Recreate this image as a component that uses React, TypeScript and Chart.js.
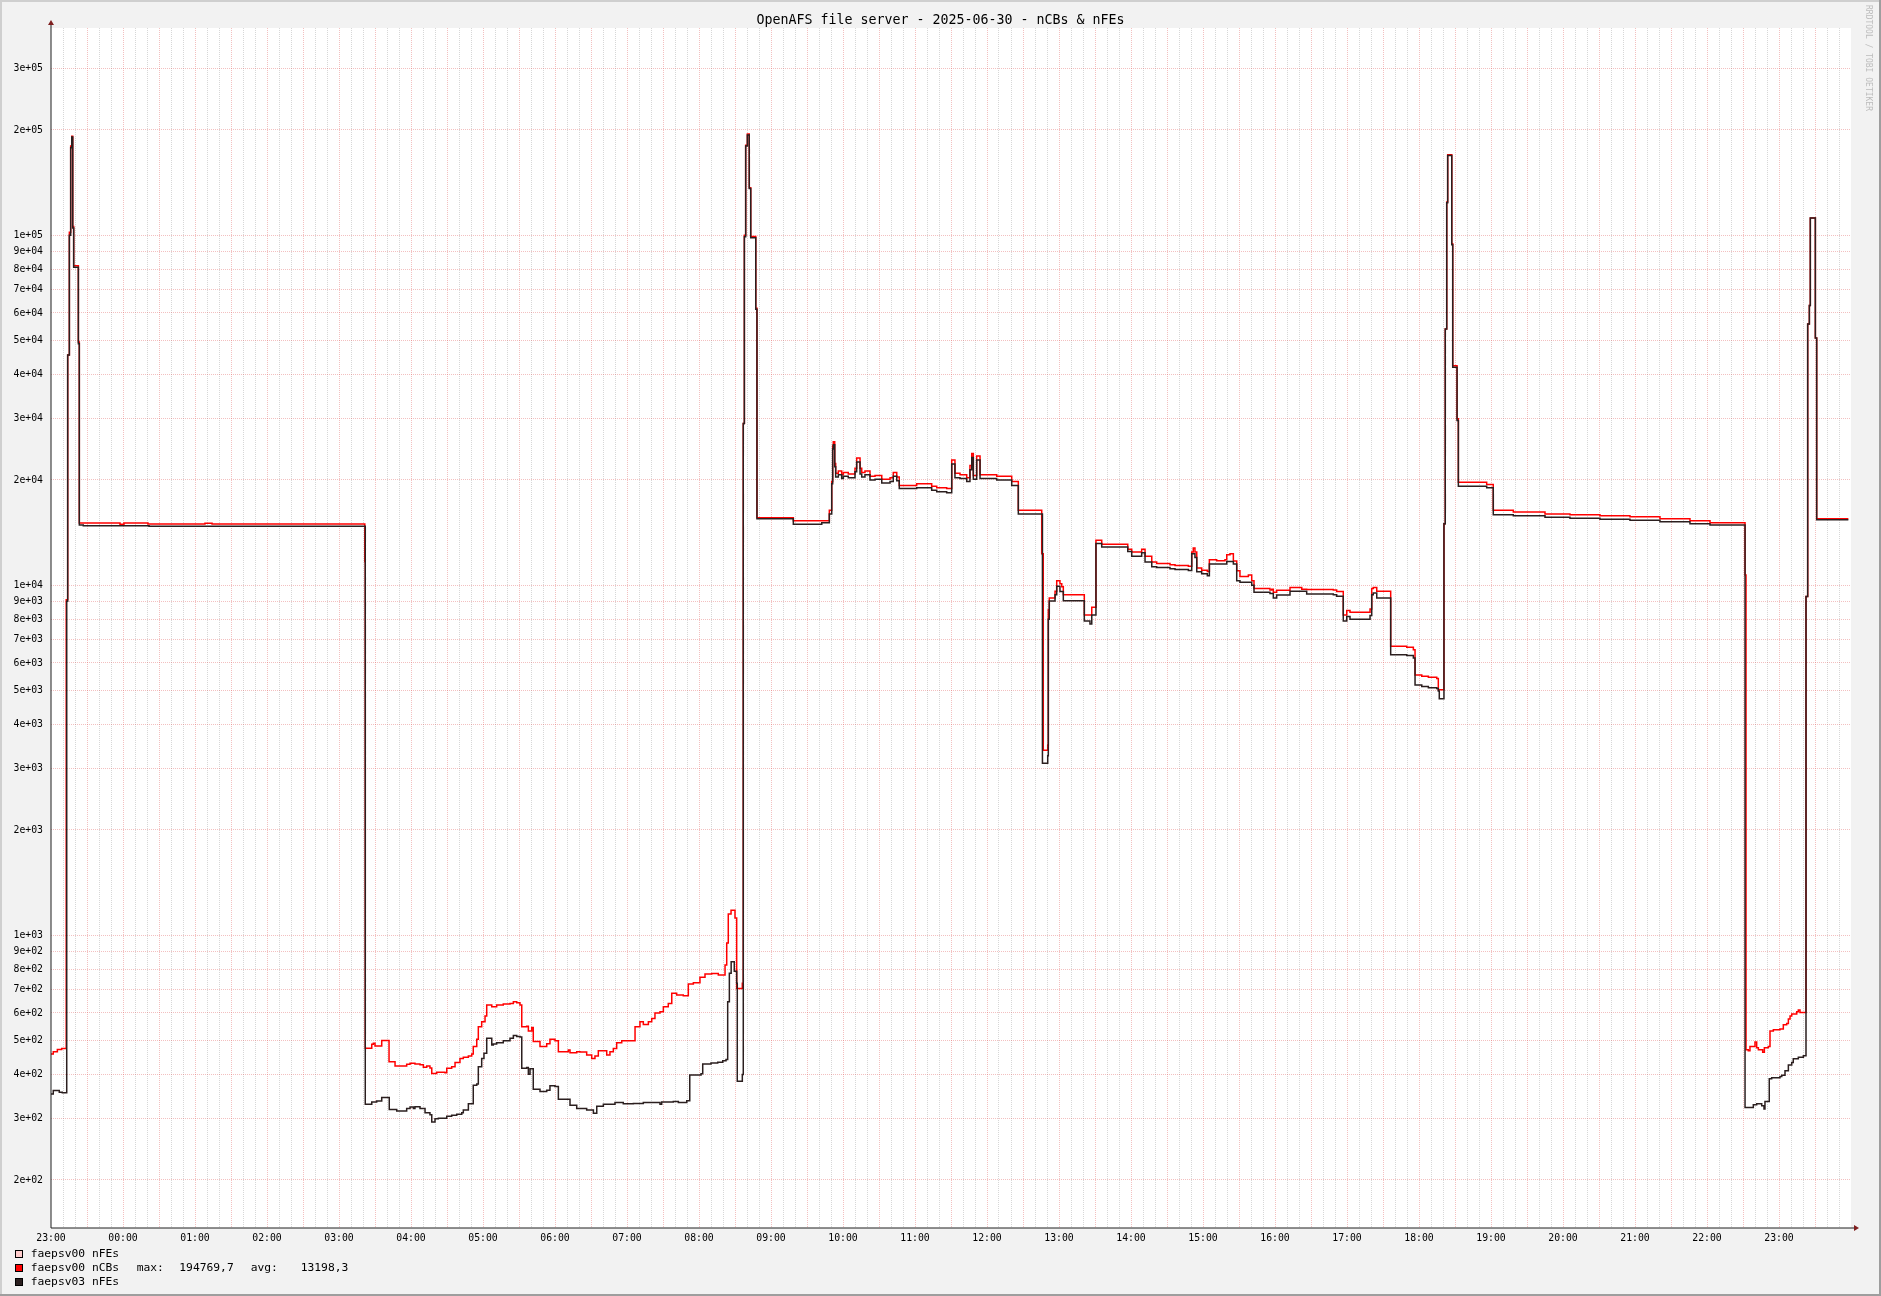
import React, { useEffect, useRef } from "react";
import { Chart, registerables } from "chart.js";

Chart.register(...registerables);

const TITLE = "OpenAFS file server - 2025-06-30 - nCBs & nFEs";
const WATERMARK = "RRDTOOL / TOBI OETIKER";
const START_HOUR = 23; // x = minutes since 23:00 of the previous day
const X_MAX = 1500;
const Y_MIN = 145.8;
const Y_MAX = 391200;
const Y_TICKS = [
  200, 300, 400, 500, 600, 700, 800, 900,
  1000, 2000, 3000, 4000, 5000, 6000, 7000, 8000, 9000,
  10000, 20000, 30000, 40000, 50000, 60000, 70000, 80000, 90000,
  100000, 200000, 300000,
];

const SERIES_LABELS = ["faepsv00 nFEs", "faepsv00 nCBs", "faepsv03 nFEs"];
const SERIES_COLORS = ["#ffcccc", "#ff0000", "#2b1f1f"];
const NCB_MAX = "194769,7";
const NCB_AVG = "13198,3";

// faepsv00 nFEs (no visible samples)
const fe0Times: number[] = [];
const fe0Values: number[] = [];

// faepsv00 nCBs: change points (minutes since 23:00, value)
const ncbTimes = [
  0, 1.9, 5.3, 8.9, 12.7, 13.9, 15.3, 16.4, 17.3, 18.1, 18.9, 22.8, 23.6, 57.5, 60.8, 80.8, 128.3, 134.2,
  261.5, 261.9, 267.3, 268.6, 270, 275.6, 281.7, 286.7, 296.4, 299.2, 303.3, 307.5, 310.3, 313.1, 315.8, 317.3,
  321.4, 328.3, 329.8, 333.9, 336.7, 340.8, 343.6, 347.8, 350.6, 351.9, 354.8, 356.1, 358.9, 361.7, 363.1, 367.3,
  371.4, 376.9, 382.5, 385.3, 388.1, 390.8, 392.3, 396.4, 397.8, 400.6, 401.9, 407.5, 413.1, 415.8, 420, 422.8,
  431.1, 432.5, 438.1, 440.8, 446.4, 450.6, 453.3, 456.1, 463.1, 465.8, 468.6, 471.4, 475.6, 486.7, 490.8, 493.6,
  497.8, 500.6, 503.3, 507.5, 510.3, 514.4, 517.3, 521.4, 526.9, 531.1, 535.3, 540.8, 545, 550.6, 556.1, 561.7,
  563.1, 564.4, 566.7, 570, 571.4, 576.1, 576.9, 577.8, 578.9, 580.3, 581.9, 583.1, 587.3, 588.3, 618.6, 648.6,
  650.6, 651.4, 651.9, 653.1, 653.9, 656.1, 658.9, 660.3, 664.4, 670, 671.4, 674.2, 675.6, 678.3, 682.5, 686.7,
  692.3, 699.2, 701.9, 704.8, 706.9, 721.4, 733.9, 738.1, 746.4, 750.6, 753.3, 757.5, 763.1, 765.8, 767.3, 768.6,
  771.4, 774.2, 788.1, 800.6, 806.1, 825.6, 826.9, 830.6, 831.1, 831.9, 836.7, 838.1, 840.8, 842.3, 843.6, 861.1,
  867.3, 870.8, 875.6, 897.3, 900.6, 908.9, 911.7, 917.3, 921.4, 932.5, 936.7, 947.8, 950.6, 951.9, 953.3, 954.8,
  958.9, 963.6, 965.3, 971.4, 978.3, 979.8, 982.5, 985.3, 988.1, 990.8, 997.8, 1000.6, 1002.5, 1015.8, 1017.3,
  1018.6, 1021.4, 1032.5, 1042.3, 1046.4, 1068.6, 1071.4, 1076.9, 1079.8, 1082.5, 1099.2, 1100.6, 1101.9, 1104.8,
  1116.4, 1129.8, 1135.3, 1136.7, 1142.3, 1147.8, 1154.8, 1156.1, 1160.8, 1161.9, 1163.1, 1163.9, 1167.3, 1168.1,
  1171.7, 1172.8, 1196.4, 1201.9, 1218.6, 1245, 1265.8, 1290.8, 1315.8, 1340.8, 1365.8, 1382.5, 1411.7, 1412.5,
  1414.4, 1415.8, 1420, 1421.4, 1422.8, 1426.4, 1427.8, 1431.1, 1432.5, 1435.3, 1440.8, 1443.6, 1446.4, 1447.8,
  1449.2, 1450.6, 1454.8, 1456.1, 1457.5, 1462.5, 1463.9, 1465.3, 1466.1, 1470.3, 1471.4, 1497.8,
];
const ncbValues = [
  458, 465, 472, 475, 9100, 45500, 102000, 180000, 192000, 106000, 81900, 49600, 15060, 14950, 15060, 14970, 15050, 14970,
  11700, 476, 488, 492, 483, 501, 435, 423, 428, 431, 429, 427, 420, 423, 418, 403,
  406, 405, 417, 421, 433, 445, 448, 452, 458, 481, 505, 548, 566, 588, 632, 625,
  632, 636, 639, 646, 642, 632, 548, 550, 533, 545, 497, 481, 490, 505, 500, 465,
  470, 462, 465, 464, 455, 445, 452, 468, 455, 465, 475, 493, 500, 548, 566, 556,
  566, 579, 600, 605, 625, 639, 683, 675, 672, 726, 732, 759, 775, 778, 770, 822,
  950, 1150, 1180, 1120, 705, 729, 29000, 100000, 181000, 194770, 136700, 99200, 61900, 15600, 15300, 16400,
  19800, 25000, 25700, 22300, 20900, 21200, 20700, 21000, 20800, 21600, 23100, 21600, 21000, 21200, 20500, 20600,
  20100, 20300, 21000, 20400, 19300, 19500, 19200, 19000, 18900, 22800, 20900, 20700, 20300, 22000, 23800, 20600,
  23400, 20700, 20500, 19800, 16400, 12300, 3380, 3500, 8520, 9200, 9620, 10300, 10100, 9900, 9400, 8220,
  8660, 13450, 13100, 12670, 12450, 12670, 12100, 11660, 11550, 11450, 11400, 11340, 12450, 12780, 12450, 11200,
  11050, 10950, 11830, 11750, 11830, 12220, 12300, 11730, 11000, 10600, 10700, 10300, 9800, 9700, 9750,
  9560, 9680, 9860, 9750, 9730, 9700, 9600, 8220, 8470, 8380, 8560, 9800, 9860, 9620,
  6700, 6650, 6540, 5540, 5500, 5460, 5420, 5030, 15000, 54000, 124500, 170000, 94600, 42400,
  29900, 19700, 19400, 16400, 16200, 16000, 15900, 15800, 15700, 15500, 15300, 15100, 10700, 471,
  468, 481, 496, 477, 471, 463, 477, 481, 533, 537, 540, 555, 560, 577,
  588, 596, 605, 612, 602, 9290, 55800, 63000, 112100, 50900, 15500, 15500,
];

// faepsv03 nFEs: change points (minutes since 23:00, value)
const fe3Times = [
  0, 1.9, 6.9, 9.4, 13.1, 13.9, 15.3, 16.4, 17.3, 18.1, 18.9, 22.8, 23.6, 26.9, 81.7,
  261.9, 267.3, 271.4, 275.6, 281.9, 288.1, 296.4, 299.2, 302, 303.3, 307.5, 311.7, 315.8, 317.3, 320, 322.8,
  329.8, 333.9, 338.1, 342.3, 343.6, 347.8, 351.9, 354.8, 356.1, 358.9, 360.8, 363.1, 367.3, 368.6, 371.4, 376.9,
  382.5, 385.3, 388.1, 390.8, 392.3, 396.4, 397.8, 399.2, 401.9, 407.5, 413.1, 415.8, 420, 422.8, 432.5, 438.1,
  446.4, 452, 454.8, 460.3, 470, 476.9, 485.3, 493.6, 507.5, 508.9, 518.6, 522.8, 529.8, 532.3, 541.7, 543.1,
  550, 555.6, 559.8, 562.5, 563.9, 565.3, 566.8, 569.4, 571.4, 571.9, 576.1, 576.9, 577.8, 578.9, 580.3, 581.9,
  583.1, 587.3, 588.3, 618.6, 642.3, 648.6, 650.6, 651.4, 651.9, 653.1, 653.9, 656.1, 658.9, 660.3, 664.4, 670,
  671.4, 674.2, 675.6, 678.3, 682.5, 686.7, 692.3, 699.2, 701.9, 704.8, 706.9, 721.4, 733.9, 738.1, 746.4, 750.6,
  753.3, 757.5, 763.1, 765.8, 767.3, 768.6, 771.4, 774.2, 788.1, 800.6, 806.1, 826.2, 830.6, 831.1, 831.9, 836.7,
  838.1, 840.8, 843.6, 861.1, 865.8, 867.3, 870.8, 875.6, 897.3, 900.6, 908.9, 911.7, 917.3, 921.4, 932.5, 936.7,
  947.8, 950.6, 953.3, 954.8, 958.9, 963.6, 965.3, 979.8, 985.3, 988.1, 990.8, 1000.6, 1002.5, 1015.8, 1018.6,
  1021.4, 1032.5, 1046.4, 1068.6, 1071.4, 1076.9, 1079.8, 1082.5, 1099.2, 1100.6, 1101.9, 1104.8, 1116.4, 1129.8,
  1135.3, 1136.7, 1142.3, 1147.8, 1154.8, 1156.1, 1156.9, 1160.8, 1161.9, 1163.1, 1163.9, 1167.3, 1168.1, 1171.7,
  1172.8, 1196.4, 1201.9, 1218.6, 1245, 1265.8, 1290.8, 1315.8, 1340.8, 1365.8, 1382.5, 1411.7, 1418.6, 1421.4,
  1425.6, 1427.5, 1428.3, 1431.9, 1433.9, 1440.8, 1442.3, 1445, 1447.8, 1450.6, 1451.9, 1456.1, 1460.3, 1462.5,
  1463.9, 1465.3, 1466.1, 1470.3, 1471.4, 1497.8,
];
const fe3Values = [
  352, 360, 356, 355, 9000, 45500, 100000, 178000, 191000, 105000, 81000, 49000, 14880, 14810, 14750,
  329, 334, 336, 344, 318, 315, 320, 323, 320, 324, 320, 311, 307, 293, 299, 300,
  304, 306, 308, 311, 317, 330, 373, 376, 421, 445, 460, 508, 486, 489, 493, 500,
  508, 517, 514, 512, 417, 419, 401, 416, 363, 358, 361, 372, 370, 340, 327, 320,
  317, 310, 325, 329, 333, 330, 331, 333, 329, 334, 335, 333, 337, 399, 402, 429,
  432, 434, 438, 442, 646, 779, 841, 790, 729, 383, 400, 29000, 99000, 180000, 193500, 136000,
  98500, 61500, 15500, 14950, 15100, 16000, 19500, 24500, 25200, 21800, 20400, 20700, 20200, 20500, 20300, 21100,
  22500, 20800, 20400, 20700, 20000, 20100, 19600, 19800, 20500, 19900, 18900, 19000, 18700, 18500, 18400, 22200,
  20300, 20200, 19800, 21400, 23200, 20100, 22800, 20200, 20000, 19300, 16000, 3100, 3260, 8000, 9020, 9400,
  9940, 9600, 9030, 7910, 7750, 8230, 13160, 12860, 12500, 12100, 12400, 11660, 11300, 11250, 11150, 11100,
  11020, 12300, 12000, 10940, 10800, 10650, 11500, 11700, 11500, 10300, 10200, 10000, 9560, 9480, 9200,
  9380, 9620, 9450, 9400, 9300, 7910, 8150, 8000, 8200, 9400, 9500, 9200, 6330, 6300,
  6200, 5190, 5140, 5100, 5070, 4990, 4740, 15000, 54000, 124000, 169000, 94000, 42000, 29600,
  19200, 19000, 15900, 15800, 15650, 15550, 15450, 15350, 15200, 15000, 14860, 322, 328, 330,
  326, 319, 335, 389, 392, 395, 398, 410, 426, 433, 444, 448, 453, 9290,
  55800, 63000, 112000, 50900, 15400, 15400,
];

const toPoints = (t: number[], v: number[]) => t.map((x, i) => ({ x, y: v[i] }));

const MONO = "'DejaVu Sans Mono', monospace";
const MAJOR_GRID = "rgba(222, 79, 79, 0.36)";
const MINOR_GRID = "rgba(143, 143, 143, 0.36)";

function fmtExp(v: number): string {
  const e = Math.floor(Math.log10(v) + 1e-9);
  const m = Math.round(v / Math.pow(10, e));
  return `${m}e+${String(e).padStart(2, "0")}`;
}

function fmtHour(min: number): string {
  const h = (START_HOUR + Math.round(min / 60)) % 24;
  return `${String(h).padStart(2, "0")}:00`;
}

const rrdPlugin = {
  id: "rrdDecor",
  beforeDraw(chart: any) {
    const { ctx, width, height, chartArea } = chart;
    ctx.save();
    ctx.fillStyle = "#f2f2f2";
    ctx.fillRect(0, 0, width, height);
    ctx.fillStyle = "#ffffff";
    ctx.fillRect(chartArea.left, chartArea.top, chartArea.right - chartArea.left, chartArea.bottom - chartArea.top);
    // 3D frame
    ctx.fillStyle = "#cfcfcf";
    ctx.fillRect(0, 0, width, 2);
    ctx.fillRect(0, 0, 2, height);
    ctx.fillStyle = "#9e9e9e";
    ctx.fillRect(0, height - 2, width, 2);
    ctx.fillRect(width - 2, 0, 2, height);
    ctx.restore();
  },
  afterDraw(chart: any) {
    const { ctx, width, chartArea } = chart;
    const { left, right, top, bottom } = chartArea;
    ctx.save();
    // title
    ctx.fillStyle = "#000000";
    ctx.font = `13.3px ${MONO}`;
    ctx.textAlign = "center";
    ctx.textBaseline = "middle";
    ctx.fillText(TITLE, width / 2, 20.5);
    // watermark
    ctx.save();
    ctx.translate(1868, 5);
    ctx.rotate(Math.PI / 2);
    ctx.font = `8px ${MONO}`;
    ctx.fillStyle = "#bdbdbd";
    ctx.textAlign = "left";
    ctx.textBaseline = "middle";
    ctx.fillText(WATERMARK, 0, 0);
    ctx.restore();
    // axes
    ctx.strokeStyle = "#1f1f1f";
    ctx.lineWidth = 1;
    ctx.beginPath();
    ctx.moveTo(left, bottom);
    ctx.lineTo(left, top - 4);
    ctx.moveTo(left, bottom);
    ctx.lineTo(right + 4, bottom);
    ctx.stroke();
    ctx.fillStyle = "#7f1f1f";
    ctx.beginPath();
    ctx.moveTo(left - 3, top - 3);
    ctx.lineTo(left + 3, top - 3);
    ctx.lineTo(left, top - 8);
    ctx.closePath();
    ctx.fill();
    ctx.beginPath();
    ctx.moveTo(right + 3, bottom - 3);
    ctx.lineTo(right + 3, bottom + 3);
    ctx.lineTo(right + 8, bottom);
    ctx.closePath();
    ctx.fill();
    // legend
    const rows = [1254, 1268, 1282];
    ctx.font = `11.3px ${MONO}`;
    ctx.textAlign = "left";
    ctx.textBaseline = "middle";
    chart.data.datasets.forEach((ds: any, i: number) => {
      const y = rows[i];
      ctx.fillStyle = ds.borderColor;
      ctx.fillRect(15, y - 4, 8, 8);
      ctx.strokeStyle = "#000000";
      ctx.lineWidth = 1;
      ctx.strokeRect(15.5, y - 3.5, 7, 7);
      ctx.fillStyle = "#000000";
      ctx.fillText(ds.label, 30.7, y);
      if (ds.label === "faepsv00 nCBs") {
        ctx.fillText("max:", 136.7, y);
        ctx.fillText(NCB_MAX, 179.3, y);
        ctx.fillText("avg:", 250.7, y);
        ctx.fillText(NCB_AVG, 300.7, y);
      }
    });
    ctx.restore();
  },
};

export default function App() {
  const ref = useRef<HTMLCanvasElement | null>(null);

  useEffect(() => {
    if (!ref.current) return;
    const common = {
      stepped: true as const,
      pointRadius: 0,
      borderWidth: 1.5,
      fill: false,
      tension: 0,
    };
    const chart = new Chart(ref.current, {
      type: "line",
      data: {
        datasets: [
          { ...common, label: SERIES_LABELS[0], data: toPoints(fe0Times, fe0Values), borderColor: SERIES_COLORS[0], backgroundColor: SERIES_COLORS[0], order: 2 },
          { ...common, label: SERIES_LABELS[1], data: toPoints(ncbTimes, ncbValues), borderColor: SERIES_COLORS[1], backgroundColor: SERIES_COLORS[1], order: 1 },
          { ...common, label: SERIES_LABELS[2], data: toPoints(fe3Times, fe3Values), borderColor: SERIES_COLORS[2], backgroundColor: SERIES_COLORS[2], order: 0 },
        ],
      },
      options: {
        animation: false,
        responsive: false,
        devicePixelRatio: 1,
        events: [],
        layout: { padding: { left: 0, right: 30, top: 28, bottom: 0 } },
        plugins: { legend: { display: false }, title: { display: false }, tooltip: { enabled: false } },
        scales: {
          x: {
            type: "linear",
            min: 0,
            max: X_MAX,
            afterFit: (s: any) => { s.height = 68; },
            border: { display: false, dash: [1, 1] },
            grid: {
              drawTicks: false,
              lineWidth: 1,
              borderDash: [1, 1],
              color: (c: any) => {
                const v = c.tick ? c.tick.value : -1;
                if (v <= 0 || v >= X_MAX) return "rgba(0,0,0,0)";
                return v % 30 === 0 ? MAJOR_GRID : MINOR_GRID;
              },
            },
            ticks: {
              stepSize: 10,
              autoSkip: false,
              maxRotation: 0,
              minRotation: 0,
              padding: 5,
              color: "#000000",
              font: { family: MONO, size: 9.8 },
              callback: (v: any) => (Number(v) % 60 === 0 && Number(v) < X_MAX ? fmtHour(Number(v)) : ""),
            },
          },
          y: {
            type: "logarithmic",
            min: Y_MIN,
            max: Y_MAX,
            afterFit: (s: any) => { s.width = 51; },
            afterBuildTicks: (s: any) => { s.ticks = Y_TICKS.map((value) => ({ value })); },
            border: { display: false, dash: [1, 1] },
            grid: { drawTicks: false, lineWidth: 1, borderDash: [1, 1], color: MAJOR_GRID },
            ticks: {
              autoSkip: false,
              padding: 8,
              color: "#000000",
              font: { family: MONO, size: 9.8 },
              callback: (v: any) => fmtExp(Number(v)),
            },
          },
        },
      },
      plugins: [rrdPlugin],
    } as any);
    return () => chart.destroy();
  }, []);

  return (
    <div style={{ position: "absolute", left: 0, top: 0, width: 1881, height: 1296 }}>
      <canvas ref={ref} width={1881} height={1296} style={{ display: "block", width: 1881, height: 1296 }} />
    </div>
  );
}
